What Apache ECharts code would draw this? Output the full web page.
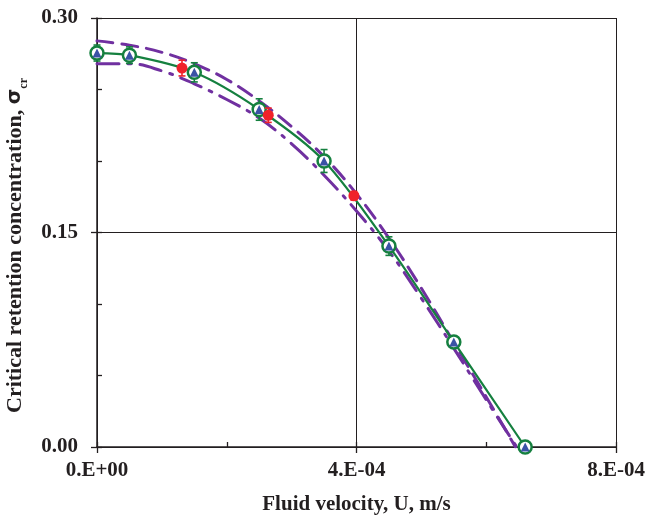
<!DOCTYPE html>
<html>
<head>
<meta charset="utf-8">
<script src="https://cdn.jsdelivr.net/npm/echarts@6/dist/echarts.min.js"></script>
<style>html,body{margin:0;padding:0;background:#fff}#c{width:647px;height:519px}</style>
</head>
<body>
<div id="c"></div>
<script>
// ---- data ----
const velocityExp = [0, 0.5e-4, 1.5e-4, 2.5e-4, 3.5e-4, 4.5e-4, 5.5e-4, 6.6e-4];
const sigmaExp    = [0.2755, 0.274, 0.262, 0.236, 0.200, 0.1405, 0.0735, 0.0];
const sigmaExpErr = [0.0056, 0.0058, 0.0067, 0.0075, 0.008, 0.0065, 0.002, 0.001];

const velocityRed = [1.31e-4, 2.64e-4, 3.96e-4];
const sigmaRed    = [0.265, 0.232, 0.1757];
const sigmaRedErr = [0.0055, 0.005, 0.003];

const velocityDashed = [0, 0.5e-4, 1.0e-4, 1.5e-4, 2.0e-4, 2.5e-4, 3.0e-4, 3.5e-4, 4.0e-4, 4.5e-4, 5.0e-4, 5.5e-4, 6.0e-4, 6.45e-4];
const sigmaDashed    = [0.284, 0.281, 0.276, 0.268, 0.257, 0.242, 0.224, 0.203, 0.177, 0.146, 0.111, 0.073, 0.035, 0.0];

const velocityDashDot = [0, 0.5e-4, 1.0e-4, 1.5e-4, 2.0e-4, 2.5e-4, 3.0e-4, 3.5e-4, 4.0e-4, 4.5e-4, 5.0e-4, 5.5e-4, 6.0e-4, 6.47e-4];
const sigmaDashDot    = [0.268, 0.268, 0.263, 0.254, 0.243, 0.230, 0.212, 0.190, 0.165, 0.137, 0.104, 0.069, 0.033, 0.0];

const xTickLabels = ['0.E+00', '4.E-04', '8.E-04'];
const yTickLabels = ['0.00', '0.15', '0.30'];

// ---- styles ----
const GREEN = '#15803F', BLUE = '#3A52A6', PURPLE = '#7030A0', RED = '#F0222A';
const FONT = 'Liberation Serif';
const INK = '#231f20';

const zip = (xs, ys) => xs.map((x, i) => [x, ys[i]]);
const errData = (xs, ys, es) => xs.map((x, i) => [x, ys[i] - es[i], ys[i] + es[i]]);

function errRenderer(color) {
  return function (params, api) {
    const x = api.value(0);
    const p1 = api.coord([x, api.value(1)]);
    const p2 = api.coord([x, api.value(2)]);
    const w = 3.5;
    const st = { stroke: color, lineWidth: 1.6 };
    return {
      type: 'group',
      children: [
        { type: 'line', shape: { x1: p1[0], y1: p1[1], x2: p2[0], y2: p2[1] }, style: st },
        { type: 'line', shape: { x1: p1[0] - w, y1: p1[1], x2: p1[0] + w, y2: p1[1] }, style: st },
        { type: 'line', shape: { x1: p2[0] - w, y1: p2[1], x2: p2[0] + w, y2: p2[1] }, style: st }
      ]
    };
  };
}

const chart = echarts.init(document.getElementById('c'), null, { renderer: 'canvas' });
const axisLabelStyle = { fontFamily: FONT, fontWeight: 'bold', fontSize: 21, color: INK };

chart.setOption({
  animation: false,
  backgroundColor: '#fff',
  grid: { left: 97, right: 31, top: 18, bottom: 72, containLabel: false, outerBoundsMode: 'none' },
  xAxis: [
    {
      type: 'value', min: 0, max: 8e-4, interval: 4e-4,
      name: 'Fluid velocity, U, m/s', nameLocation: 'middle', nameGap: 47,
      nameTextStyle: { fontFamily: FONT, fontWeight: 'bold', fontSize: 21, color: INK },
      axisLine: { onZero: false, lineStyle: { color: INK, width: 1.5 } },
      axisTick: { show: true, inside: false, length: 6, lineStyle: { color: INK, width: 1.3 } },
      axisLabel: Object.assign({ margin: 13, formatter: v => xTickLabels[Math.round(v / 4e-4)] }, axisLabelStyle),
      splitLine: { show: true, lineStyle: { color: INK, width: 1 } }
    },
    {
      type: 'value', min: 0, max: 8e-4, interval: 2e-4, position: 'bottom',
      axisLine: { show: false },
      axisTick: { show: true, inside: true, length: 5, lineStyle: { color: INK, width: 1.3 } },
      axisLabel: { show: false }, splitLine: { show: false }
    }
  ],
  yAxis: [
    {
      type: 'value', min: 0, max: 0.3, interval: 0.15,
      name: '{a|Critical retention concentration, }{s|σ}{b|cr}',
      nameLocation: 'middle', nameGap: 57, nameRotate: 90,
      nameTextStyle: {
        rich: {
          a: { fontFamily: FONT, fontWeight: 'bold', fontSize: 22, color: INK, lineHeight: 26, verticalAlign: 'top' },
          s: { fontFamily: 'DejaVu Sans', fontWeight: 'bold', fontSize: 20, color: INK, lineHeight: 26, verticalAlign: 'top' },
          b: { fontFamily: FONT, fontWeight: 'bold', fontSize: 12, color: INK, lineHeight: 26, verticalAlign: 'bottom', padding: [0, 26, 0, 0] }
        }
      },
      axisLine: { onZero: false, lineStyle: { color: INK, width: 1.5 } },
      axisTick: { show: true, inside: false, length: 6, lineStyle: { color: INK, width: 1.3 } },
      axisLabel: Object.assign({ margin: 19, formatter: v => yTickLabels[Math.round(v / 0.15)] }, axisLabelStyle),
      splitLine: { show: true, lineStyle: { color: INK, width: 1 } }
    },
    {
      type: 'value', min: 0, max: 0.3, interval: 0.05, position: 'left',
      axisLine: { show: false },
      axisTick: { show: true, inside: true, length: 5, lineStyle: { color: INK, width: 1.3 } },
      axisLabel: { show: false }, splitLine: { show: false }
    }
  ],
  series: [
    {
      type: 'line', data: zip(velocityDashDot, sigmaDashDot), smooth: 0.4, showSymbol: false,
      lineStyle: { color: PURPLE, width: 3, type: [22, 9, 3, 9], cap: 'round' }, z: 2
    },
    {
      type: 'line', data: zip(velocityDashed, sigmaDashed), smooth: 0.4, showSymbol: false,
      lineStyle: { color: PURPLE, width: 3, type: [16, 9], cap: 'round' }, z: 2
    },
    {
      type: 'line', data: zip(velocityExp, sigmaExp), smooth: 0.3, showSymbol: false,
      lineStyle: { color: GREEN, width: 2.2 }, z: 3
    },
    {
      type: 'custom', data: errData(velocityExp, sigmaExp, sigmaExpErr),
      renderItem: errRenderer(GREEN), encode: { x: 0, y: [1, 2] }, z: 4
    },
    {
      type: 'scatter', data: zip(velocityExp, sigmaExp), symbol: 'circle', symbolSize: 13,
      itemStyle: { color: '#ffffff', borderColor: GREEN, borderWidth: 2.5, opacity: 1 }, z: 5
    },
    {
      type: 'scatter', data: zip(velocityExp, sigmaExp), symbol: 'triangle', symbolSize: 9,
      itemStyle: { color: BLUE, opacity: 1 }, z: 6
    },
    {
      type: 'custom', data: errData(velocityRed, sigmaRed, sigmaRedErr),
      renderItem: errRenderer(RED), encode: { x: 0, y: [1, 2] }, z: 7
    },
    {
      type: 'scatter', data: zip(velocityRed, sigmaRed), symbol: 'circle', symbolSize: 11,
      itemStyle: { color: RED, opacity: 1 }, z: 8
    }
  ]
});
</script>
</body>
</html>
